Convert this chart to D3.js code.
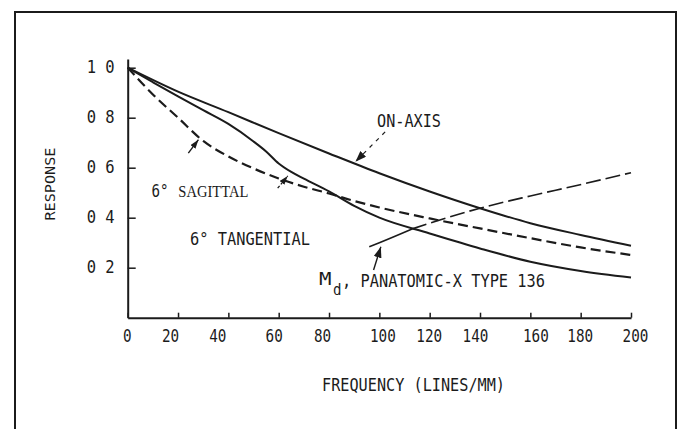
<!DOCTYPE html>
<html>
<head>
<meta charset="utf-8">
<script src="https://cdnjs.cloudflare.com/ajax/libs/d3/7.8.5/d3.min.js"></script>
<style>
    html, body { margin: 0; padding: 0; background: #fff; overflow: hidden; }
    svg { display: block; }
</style>
</head>
<body>
<svg id="chart"></svg>
<script>
// values (response vs frequency in lines/mm)
var freqOnAxis = [0, 20, 40, 60, 80, 100, 120, 140, 160, 180, 200];
var respOnAxis = [1.0, 0.904, 0.822, 0.738, 0.657, 0.578, 0.505, 0.438, 0.378, 0.331, 0.288];

var freqSag = [0, 10, 20, 30, 40, 50, 60, 70, 80, 90, 100, 120, 140, 160, 180, 200];
var respSag = [1.0, 0.893, 0.80, 0.707, 0.645, 0.597, 0.557, 0.524, 0.497, 0.467, 0.441, 0.397, 0.357, 0.318, 0.281, 0.251];

var freqTan = [0, 10, 20, 30, 40, 50, 55, 60, 65, 70, 80, 90, 100, 120, 140, 160, 180, 200];
var respTan = [1.0, 0.942, 0.885, 0.83, 0.775, 0.705, 0.665, 0.617, 0.583, 0.556, 0.505, 0.447, 0.40, 0.337, 0.277, 0.224, 0.187, 0.161];

var freqMd = [96, 100, 113, 140, 160, 178, 200];
var respMd = [0.284, 0.30, 0.355, 0.438, 0.487, 0.528, 0.58];

var xTicks = [0, 20, 40, 60, 80, 100, 120, 140, 160, 180, 200];
var yTicks = [0.2, 0.4, 0.6, 0.8, 1.0];
var yTickLabels = ["0 2", "0 4", "0 6", "0 8", "1 0"];

// layout
var width = 684, height = 429;
var ink = "#1b1b1b";
var mono = "'DejaVu Sans Mono', 'Liberation Mono', monospace";
var serif = "'Liberation Serif', 'DejaVu Serif', serif";
var xTickNudge = [-1, -8, -11, -5, -7, 3, -1, -5, 5, -1, 4];

var svg = d3.select("#chart")
    .attr("width", width)
    .attr("height", height);

svg.append("rect")
    .attr("width", width).attr("height", height)
    .attr("fill", "#fff");

// outer frame (runs off the bottom of the picture)
svg.append("rect")
    .attr("x", 15).attr("y", 12)
    .attr("width", 661).attr("height", 440)
    .attr("fill", "none")
    .attr("stroke", ink)
    .attr("stroke-width", 2);

var x = d3.scaleLinear().domain([0, 200]).range([127.7, 631]);
var y = d3.scaleLinear().domain([0, 1.035]).range([317.7, 58.95]);

var defs = svg.append("defs");
function marker(id, w, h) {
    defs.append("marker")
        .attr("id", id)
        .attr("viewBox", "0 0 " + w + " " + h)
        .attr("refX", w).attr("refY", h / 2)
        .attr("markerWidth", w).attr("markerHeight", h)
        .attr("markerUnits", "userSpaceOnUse")
        .attr("orient", "auto")
        .append("path")
        .attr("d", "M0,0L" + w + "," + (h / 2) + "L0," + h + "Z")
        .attr("fill", ink);
}
marker("headBig", 11, 8);
marker("headSmall", 9, 6);

// axes
var xAxis = d3.axisBottom(x)
    .tickValues(xTicks)
    .tickSize(-5)
    .tickSizeOuter(0)
    .tickFormat(d3.format("d"));

var gX = svg.append("g")
    .attr("transform", "translate(0,317.7)")
    .call(xAxis);
gX.select(".domain").attr("stroke", ink).attr("stroke-width", 2);
gX.selectAll(".tick line").attr("stroke", ink).attr("stroke-width", 1.5);
gX.selectAll(".tick text")
    .attr("y", 24).attr("dy", null)
    .attr("dx", function (d, i) { return xTickNudge[i]; })
    .attr("fill", ink)
    .attr("font-family", mono)
    .attr("font-size", 18)
    .attr("textLength", function (d) { return String(d).length * 8.6; })
    .attr("lengthAdjust", "spacingAndGlyphs");

var yAxis = d3.axisLeft(y)
    .tickValues(yTicks)
    .tickSize(-8)
    .tickSizeOuter(0)
    .tickFormat(function (d, i) { return yTickLabels[i]; });

var gY = svg.append("g")
    .attr("transform", "translate(127.7,0)")
    .call(yAxis);
gY.select(".domain").attr("stroke", ink).attr("stroke-width", 2);
gY.selectAll(".tick line").attr("stroke", ink).attr("stroke-width", 1.5);
gY.selectAll(".tick text")
    .attr("x", -13).attr("dy", "0.3em")
    .attr("fill", ink)
    .attr("font-family", mono)
    .attr("font-size", 17)
    .attr("textLength", 28)
    .attr("lengthAdjust", "spacingAndGlyphs");

// curves
function pairs(xs, ys) {
    return xs.map(function (v, i) { return [v, ys[i]]; });
}
var line = d3.line()
    .x(function (d) { return x(d[0]); })
    .y(function (d) { return y(d[1]); })
    .curve(d3.curveMonotoneX);

var curves = svg.append("g").attr("fill", "none").attr("stroke", ink);

curves.append("path")
    .attr("d", line(pairs(freqOnAxis, respOnAxis)))
    .attr("stroke-width", 2);

curves.append("path")
    .attr("d", line(pairs(freqTan, respTan)))
    .attr("stroke-width", 2);

curves.append("path")
    .attr("d", line(pairs(freqSag, respSag)))
    .attr("stroke-width", 2.2)
    .attr("stroke-dasharray", "10,5");

var md = pairs(freqMd, respMd);
curves.append("path")
    .attr("d", line(md.filter(function (d) { return d[0] <= 113; })))
    .attr("stroke-width", 1.6);
curves.append("path")
    .attr("d", line(md.filter(function (d) { return d[0] >= 113; })))
    .attr("stroke-width", 1.6)
    .attr("stroke-dasharray", "15,5");

// pointers from labels to curves
var pointers = [
    { from: [102.3, 0.743], to: [90.5, 0.624], dash: "4,5", w: 1.2, head: "headBig" },
    { from: [24.1, 0.658], to: [28.1, 0.712], dash: null, w: 1.4, head: "headSmall" },
    { from: [59.6, 0.518], to: [63.6, 0.567], dash: "3,2", w: 1.3, head: "headSmall" },
    { from: [97.7, 0.191], to: [100.6, 0.284], dash: null, w: 1.4, head: "headBig" }
];
svg.append("g").selectAll("line")
    .data(pointers)
    .enter().append("line")
    .attr("x1", function (d) { return x(d.from[0]); })
    .attr("y1", function (d) { return y(d.from[1]); })
    .attr("x2", function (d) { return x(d.to[0]); })
    .attr("y2", function (d) { return y(d.to[1]); })
    .attr("stroke", ink)
    .attr("stroke-width", function (d) { return d.w; })
    .attr("stroke-dasharray", function (d) { return d.dash; })
    .attr("marker-end", function (d) { return "url(#" + d.head + ")"; });

// typewriter text, squeezed to the narrow typeface of the original
function typed(str, px, py, size, len, anchor) {
    return svg.append("text")
        .attr("x", px).attr("y", py)
        .attr("fill", ink)
        .attr("font-family", mono)
        .attr("font-size", size)
        .attr("text-anchor", anchor || "start")
        .attr("textLength", len)
        .attr("lengthAdjust", "spacingAndGlyphs")
        .text(str);
}

typed("ON-AXIS", 377, 127, 17.5, 64);
typed("6\u00b0 TANGENTIAL", 190, 244.5, 18.5, 120);
typed("M", 319, 285, 18.5, 12.5);
typed("d", 333, 295, 16, 8.5);
typed(", PANATOMIC-X TYPE 136", 342, 287.3, 18.5, 203);
typed("FREQUENCY (LINES/MM)", 322, 391, 18.5, 183);

typed("RESPONSE", 0, 0, 14, 73, "middle")
    .attr("transform", "translate(55,184) rotate(-90)");

typed("6\u00b0", 151.5, 196.5, 17.5, 17);
svg.append("text")
    .attr("x", 178.3).attr("y", 196.5)
    .attr("fill", ink)
    .attr("font-family", serif)
    .attr("font-size", 16.5)
    .attr("textLength", 70)
    .attr("lengthAdjust", "spacingAndGlyphs")
    .text("SAGITTAL");
</script>
</body>
</html>
